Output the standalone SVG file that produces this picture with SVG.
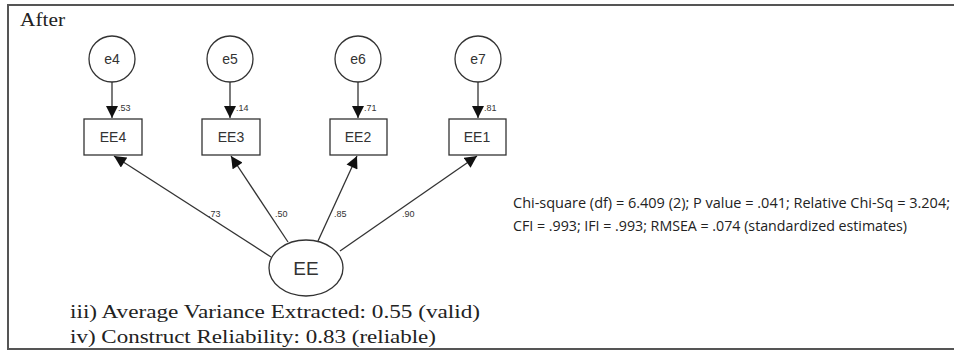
<svg xmlns="http://www.w3.org/2000/svg" width="954" height="351" viewBox="0 0 954 351">
  <style>
    .frame { fill: none; stroke: #555; stroke-width: 2; }
    .shape { fill: #fff; stroke: #333; stroke-width: 1.3; }
    .edge { stroke: #333; stroke-width: 1.3; fill: none; marker-end: url(#arrow); }
    .lbl { font-family: "Liberation Sans", Arial, sans-serif; font-size: 14px; fill: #333; text-anchor: middle; }
    .big { font-family: "Liberation Sans", Arial, sans-serif; font-size: 19px; fill: #333; text-anchor: middle; }
    .est { font-family: "Liberation Sans", Arial, sans-serif; font-size: 9px; fill: #333; }
    .serif { font-family: "Liberation Serif", "Times New Roman", serif; font-size: 19px; fill: #222; }
    .stats { font-family: "Open Sans", "Liberation Sans", sans-serif; font-size: 14px; fill: #222; }
  </style>
  <defs>
    <marker id="arrow" viewBox="0 0 10 10" refX="10" refY="5" markerWidth="13" markerHeight="12" markerUnits="userSpaceOnUse" orient="auto">
      <path d="M0,0 L10,5 L0,10 Z" fill="#111"/>
    </marker>
  </defs>

  <rect width="954" height="351" fill="#fff"/>
  <path class="frame" d="M960,5 H8 V349 H960"/>

  <text class="serif" x="20" y="26" font-size="21" textLength="45" lengthAdjust="spacingAndGlyphs">After</text>

  <!-- connectors -->
  <g id="connectors">
    <line class="edge" x1="112" y1="81" x2="112" y2="118"/>
    <line class="edge" x1="230" y1="81" x2="230" y2="118"/>
    <line class="edge" x1="358" y1="81" x2="358" y2="118"/>
    <line class="edge" x1="478" y1="81" x2="478" y2="118"/>
    <line class="edge" x1="271" y1="257" x2="114" y2="156"/>
    <line class="edge" x1="288" y1="242" x2="231" y2="156"/>
    <line class="edge" x1="318" y1="241" x2="357" y2="156"/>
    <line class="edge" x1="340" y1="251" x2="477" y2="156"/>
    <text class="est" x="118" y="111">.53</text>
    <text class="est" x="236" y="111">.14</text>
    <text class="est" x="364" y="111">.71</text>
    <text class="est" x="484" y="111">.81</text>
    <text class="est" x="208" y="217">.73</text>
    <text class="est" x="275" y="217">.50</text>
    <text class="est" x="334" y="217">.85</text>
    <text class="est" x="402" y="217">.90</text>
  </g>

  <!-- error terms -->
  <g id="e4"><circle class="shape" cx="112" cy="59" r="23"/><text class="lbl" x="112" y="64">e4</text></g>
  <g id="e5"><circle class="shape" cx="230" cy="59" r="23"/><text class="lbl" x="230" y="64">e5</text></g>
  <g id="e6"><circle class="shape" cx="358" cy="59" r="23"/><text class="lbl" x="358" y="64">e6</text></g>
  <g id="e7"><circle class="shape" cx="478" cy="59" r="23"/><text class="lbl" x="478" y="64">e7</text></g>

  <!-- observed indicators -->
  <g id="EE4"><rect class="shape" x="84" y="119" width="58" height="36"/><text class="lbl" x="113" y="142">EE4</text></g>
  <g id="EE3"><rect class="shape" x="202" y="119" width="58" height="36"/><text class="lbl" x="231" y="142">EE3</text></g>
  <g id="EE2"><rect class="shape" x="330" y="119" width="57" height="36"/><text class="lbl" x="358" y="142">EE2</text></g>
  <g id="EE1"><rect class="shape" x="449" y="119" width="57" height="36"/><text class="lbl" x="477" y="142">EE1</text></g>

  <!-- latent factor -->
  <g id="EE"><ellipse class="shape" cx="306" cy="268" rx="37" ry="28"/><text class="big" x="306" y="275">EE</text></g>

  <text class="serif" x="70" y="318" textLength="410" lengthAdjust="spacingAndGlyphs">iii) Average Variance Extracted: 0.55 (valid)</text>
  <text class="serif" x="70" y="343" textLength="366" lengthAdjust="spacingAndGlyphs">iv) Construct Reliability: 0.83 (reliable)</text>

  <text class="stats" x="513" y="208" textLength="437" lengthAdjust="spacingAndGlyphs">Chi-square (df) = 6.409 (2);  P value = .041; Relative Chi-Sq = 3.204;</text>
  <text class="stats" x="513" y="231" textLength="394" lengthAdjust="spacingAndGlyphs">CFI = .993; IFI = .993; RMSEA = .074 (standardized estimates)</text>
</svg>
